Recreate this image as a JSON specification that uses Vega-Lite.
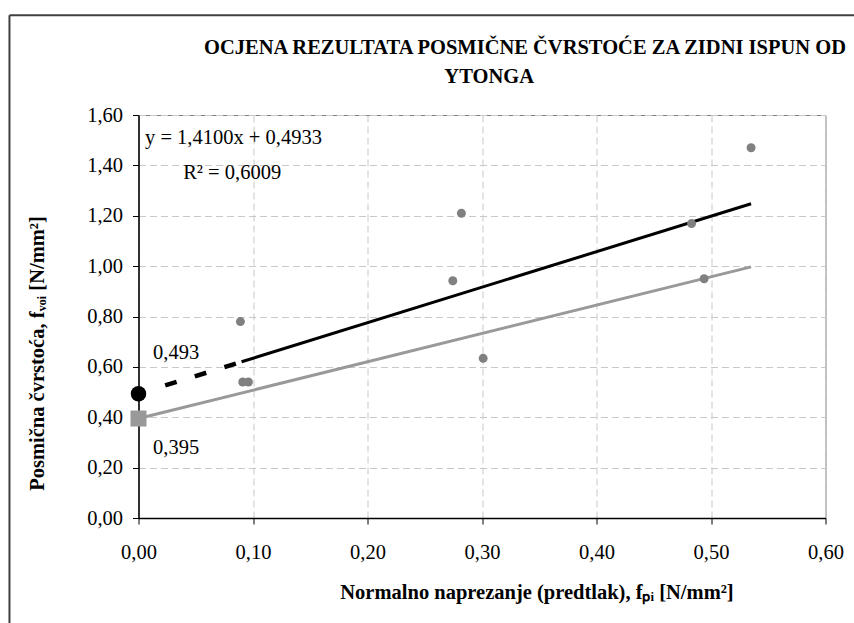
{
  "$schema": "https://vega.github.io/schema/vega-lite/v6.json",
  "autosize": "none",
  "width": 687,
  "height": 403,
  "padding": {"left": 138.5, "top": 115, "right": 28.5, "bottom": 105},
  "background": "white",
  "config": {
    "locale": {"number": {"decimal": ",", "thousands": ".", "grouping": [3], "currency": ["", " €"]}},
    "font": "Liberation Serif",
    "view": {"stroke": "#808080", "strokeWidth": 1},
    "axis": {
      "labelFont": "Liberation Serif",
      "labelFontSize": 20.5,
      "labelColor": "black",
      "domainColor": "black",
      "domainWidth": 1.5,
      "tickColor": "black",
      "tickWidth": 1,
      "tickSize": 6,
      "gridColor": "#c8c8c8",
      "gridDash": [7, 4],
      "gridWidth": 1,
      "titleFont": "Liberation Serif",
      "titleFontSize": 20.5,
      "titleFontWeight": "bold",
      "titleColor": "black",
      "labelOverlap": false,
      "labelFlush": false
    }
  },
  "title": {
    "text": ["OCJENA REZULTATA POSMIČNE ČVRSTOĆE ZA ZIDNI ISPUN OD", "YTONGA\u00a0\u00a0\u00a0\u00a0\u00a0\u00a0\u00a0\u00a0\u00a0\u00a0\u00a0\u00a0\u00a0\u00a0\u200b"],
    "font": "Liberation Serif",
    "fontSize": 20.5,
    "fontWeight": "bold",
    "color": "black",
    "anchor": "middle",
    "frame": "group",
    "dx": 43,
    "offset": -73,
    "lineHeight": 29
  },
  "datasets": {
    "points": [
      {"x": 0.089, "y": 0.78},
      {"x": 0.091, "y": 0.54},
      {"x": 0.096, "y": 0.54},
      {"x": 0.2745, "y": 0.942},
      {"x": 0.282, "y": 1.21},
      {"x": 0.301, "y": 0.634},
      {"x": 0.483, "y": 1.169},
      {"x": 0.494, "y": 0.95},
      {"x": 0.535, "y": 1.47}
    ],
    "fitSolid": [{"x": 0.09, "y": 0.6202}, {"x": 0.535, "y": 1.2477}],
    "fitDash": [{"x": 0.0233, "y": 0.5262}, {"x": 0.09, "y": 0.6202}],
    "lower": [{"x": 0.0, "y": 0.395}, {"x": 0.535, "y": 0.997}],
    "intercept": [{"x": 0.0, "y": 0.4933}],
    "lowerIntercept": [{"x": 0.0, "y": 0.395}],
    "labels": [
      {"x": 0.0127, "y": 0.654, "t": "0,493"},
      {"x": 0.0127, "y": 0.277, "t": "0,395"},
      {"x": 0.0057, "y": 1.507, "t": "y = 1,4100x + 0,4933"},
      {"x": 0.039, "y": 1.368, "t": "R² = 0,6009"}
    ],
    "frame": [
      {"x": -0.1127, "y": -0.43, "x2": -0.1127, "y2": 1.9956},
      {"x": -0.1127, "y": 1.9956, "x2": 0.63, "y2": 1.9956}
    ]
  },
  "encoding": {
    "x": {
      "field": "x",
      "type": "quantitative",
      "scale": {"domain": [0, 0.6], "nice": false, "zero": false},
      "axis": {
        "values": [0, 0.1, 0.2, 0.3, 0.4, 0.5, 0.6],
        "format": ".2f",
        "labelPadding": 18,
        "title": "Normalno naprezanje (predtlak), fₚᵢ [N/mm²]",
        "titleX": 398,
        "titleY": 74,
        "titleBaseline": "middle",
        "titleAlign": "center",
        "titleAnchor": null
      }
    },
    "y": {
      "field": "y",
      "type": "quantitative",
      "scale": {"domain": [0, 1.6], "nice": false, "zero": false},
      "axis": {
        "values": [0, 0.2, 0.4, 0.6, 0.8, 1.0, 1.2, 1.4, 1.6],
        "format": ".2f",
        "labelPadding": 10,
        "title": "Posmična čvrstoća, fᵥₒᵢ  [N/mm²]",
        "titleX": -101,
        "titleY": 238,
        "titleAngle": -90,
        "titleBaseline": "middle",
        "titleAlign": "center"
      }
    }
  },
  "layer": [
    {
      "data": {"name": "frame"},
      "mark": {"type": "rule", "color": "#404040", "strokeWidth": 2, "clip": false},
      "encoding": {"x2": {"field": "x2"}, "y2": {"field": "y2"}}
    },
    {
      "data": {"name": "lower"},
      "mark": {"type": "line", "color": "#999999", "strokeWidth": 3},
      "encoding": {}
    },
    {
      "data": {"name": "fitSolid"},
      "mark": {"type": "line", "color": "black", "strokeWidth": 3},
      "encoding": {}
    },
    {
      "data": {"name": "fitDash"},
      "mark": {"type": "line", "color": "black", "strokeWidth": 4.5, "strokeDash": [12, 19]},
      "encoding": {}
    },
    {
      "data": {"name": "points"},
      "mark": {"type": "circle", "color": "#808080", "opacity": 1, "size": 80},
      "encoding": {}
    },
    {
      "data": {"name": "intercept"},
      "mark": {"type": "circle", "color": "black", "opacity": 1, "size": 240, "clip": false},
      "encoding": {}
    },
    {
      "data": {"name": "lowerIntercept"},
      "mark": {"type": "square", "color": "#999999", "opacity": 1, "size": 256, "clip": false},
      "encoding": {}
    },
    {
      "data": {"name": "labels"},
      "mark": {"type": "text", "align": "left", "baseline": "middle", "font": "Liberation Serif", "fontSize": 20.5, "color": "black"},
      "encoding": {"text": {"field": "t"}}
    }
  ]
}
